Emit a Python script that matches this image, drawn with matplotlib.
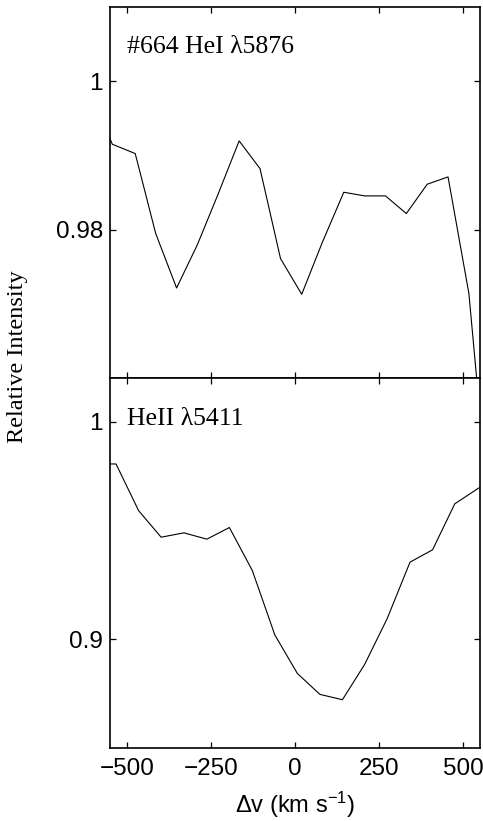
import matplotlib.pyplot as plt
from matplotlib.ticker import FixedLocator

plt.rcParams["font.family"] = ["Liberation Sans", "DejaVu Sans"]
plt.rcParams["mathtext.fontset"] = "custom"
plt.rcParams["mathtext.rm"] = "Liberation Sans"
plt.rcParams["mathtext.it"] = "Liberation Sans:italic"

# HeI 5876 profile (star #664)
v_hei = [-605, -543, -475, -414, -352, -290, -228, -166, -104, -43,
         20, 81, 145, 207, 269, 331, 393, 455, 517, 579]
i_hei = [0.9983, 0.9915, 0.99025, 0.97946, 0.97213, 0.97798, 0.98485, 0.99195,
         0.98822, 0.97609, 0.97128, 0.97825, 0.98503, 0.98454, 0.98454,
         0.98216, 0.98611, 0.98710, 0.97137, 0.9407]

# HeII 5411 profile
v_heii = [-600, -532, -465, -398, -330, -262, -195, -127, -60, 7,
          74, 141, 207, 274, 342, 409, 475, 542, 610]
i_heii = [0.9805, 0.9805, 0.95908, 0.94686, 0.94885, 0.94595, 0.95129,
          0.93159, 0.90197, 0.88426, 0.87464, 0.87219, 0.88838, 0.90945,
          0.93541, 0.94106, 0.9622, 0.9690, 0.9760]

x_ticks = [-500, -250, 0, 250, 500]
top_yticks = [0.98, 1.0]
top_ylabels = ["0.98", "1"]
bot_yticks = [0.9, 1.0]
bot_ylabels = ["0.9", "1"]

fig = plt.figure(figsize=(4.83, 8.21), dpi=100)
ax_top = fig.add_axes([0.2277, 0.5396, 0.7661, 0.4519])
ax_bot = fig.add_axes([0.2277, 0.0889, 0.7661, 0.4507])

ax_top.plot(v_hei, i_hei, color="black", lw=0.8)
ax_bot.plot(v_heii, i_heii, color="black", lw=0.8)

ax_top.set_ylim(0.96, 1.01)
ax_bot.set_ylim(0.85, 1.02)

for ax in (ax_top, ax_bot):
    ax.set_xlim(-550, 550)
    ax.xaxis.set_major_locator(FixedLocator(x_ticks))
    ax.tick_params(direction="in", top=True, right=True, length=4.5,
                   width=0.9, labelsize=17.5)
    ax.tick_params(axis="x", pad=7)
    ax.tick_params(axis="y", pad=5)
    for sp in ax.spines.values():
        sp.set_linewidth(1.2)

ax_top.set_yticks(top_yticks, top_ylabels)
ax_bot.set_yticks(bot_yticks, bot_ylabels)
ax_top.tick_params(labelbottom=False)

ax_top.text(-500, 1.0038, "#664 HeI λ5876", family="Liberation Serif",
            fontsize=18.5, va="baseline", ha="left")
ax_bot.text(-500, 0.9985, "HeII λ5411", family="Liberation Serif",
            fontsize=18.5, va="baseline", ha="left")

fig.text(18 / 483, 1 - 357 / 821, "Relative Intensity", family="Liberation Serif",
         fontsize=17.5, rotation=90, ha="center", va="center")
fig.text(295 / 483, 1 / 821, r"Δv (km s$^{-1}$)", fontsize=17,
         ha="center", va="bottom")

fig.savefig("out.png", dpi=100)
